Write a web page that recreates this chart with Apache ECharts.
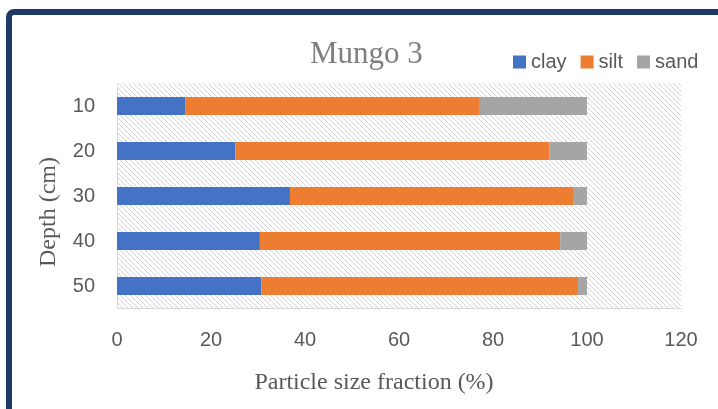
<!DOCTYPE html>
<html><head><meta charset="utf-8">
<script src="https://cdn.jsdelivr.net/npm/echarts@6/dist/echarts.min.js"></script>
<style>html,body{margin:0;padding:0;background:#fff}#c{width:718px;height:409px}</style>
</head><body><div id="c"></div>
<script>
const depths = ['10','20','30','40','50'];
const clay = [14.5, 25.2, 36.8, 30.4, 30.7];
const silt = [62.7, 66.8, 60.4, 63.9, 67.4];
const sand = [22.8, 8.0, 2.8, 5.7, 1.9];
const seriesNames = ['clay','silt','sand'];
const colors = ['#4472C4','#ED7D31','#A5A5A5'];

// hatch pattern
const pc = document.createElement('canvas');
pc.width = 5; pc.height = 5;
const g = pc.getContext('2d');
g.fillStyle = '#fff'; g.fillRect(0,0,5,5);
g.fillStyle = '#d2d2d2';
for (let i = 0; i < 5; i++) g.fillRect(i, i, 1, 1);

const chart = echarts.init(document.getElementById('c'), null, {renderer:'canvas'});
const sansFont = 'Liberation Sans';
const serifFont = 'Liberation Serif';
chart.setOption({
  animation: false,
  title: {
    text: 'Mungo 3', left: 305, top: 34,
    textStyle: {fontFamily: serifFont, fontSize: 31, fontWeight: 'normal', color: '#7f7f7f'}
  },
  legend: {
    data: seriesNames, left: 513, top: 52, padding: 0, icon: 'rect', itemWidth: 13, itemHeight: 13, itemGap: 14,
    textStyle: {fontFamily: sansFont, fontSize: 20, color: '#595959'}
  },
  grid: {
    left: 117, right: 37, top: 83.5, bottom: 100.5, show: true, borderWidth: 0,
    backgroundColor: {image: pc, repeat: 'repeat'}
  },
  xAxis: {
    type: 'value', min: 0, max: 120, interval: 20,
    name: 'Particle size fraction (%)', nameLocation: 'middle', nameGap: 62,
    nameTextStyle: {fontFamily: serifFont, fontSize: 24, color: '#595959', padding: [0, 50, 0, 0]},
    axisLine: {show: true, lineStyle: {color: '#d9d9d9'}},
    axisTick: {show: false}, splitLine: {show: false},
    axisLabel: {fontFamily: sansFont, fontSize: 20, color: '#595959', margin: 22}
  },
  yAxis: {
    type: 'category', data: depths, inverse: true,
    name: 'Depth (cm)', nameLocation: 'middle', nameGap: 56,
    nameTextStyle: {fontFamily: serifFont, fontSize: 24, color: '#595959', padding: [0, 32, 0, 0]},
    axisLine: {show: true, lineStyle: {color: '#d9d9d9'}},
    axisTick: {show: false},
    axisLabel: {fontFamily: sansFont, fontSize: 20, color: '#595959', margin: 22}
  },
  graphic: [{
    type: 'rect', shape: {x: 9, y: 12, width: 800, height: 600, r: 5},
    style: {fill: 'none', stroke: '#1F3864', lineWidth: 6}, silent: true, z: 100
  }],
  series: [clay, silt, sand].map((d, i) => ({
    name: seriesNames[i], type: 'bar', stack: 'total', data: d, barWidth: 18,
    itemStyle: {color: colors[i]}
  }))
});
</script></body></html>
